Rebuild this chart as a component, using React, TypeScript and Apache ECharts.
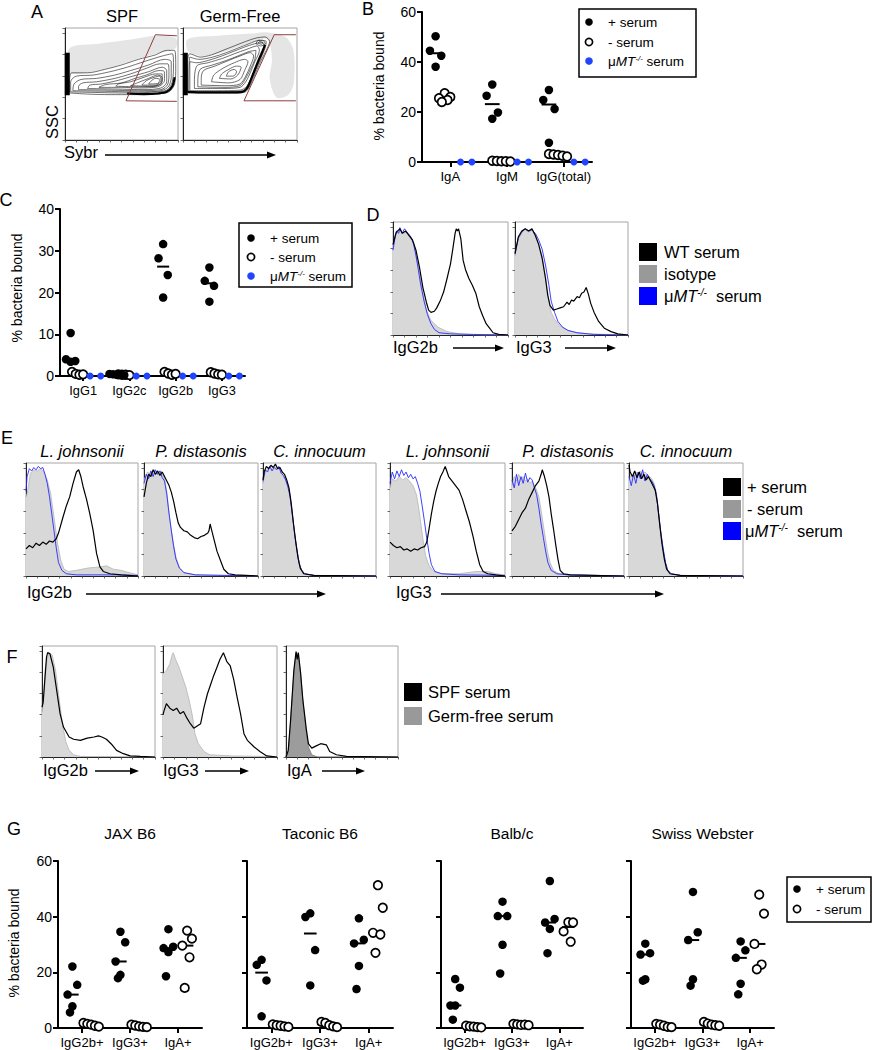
import React, { useEffect, useRef } from "react";
import * as echarts from "echarts";

const FONT = '"Liberation Sans", Arial, Helvetica, sans-serif';

// ---------------- Panel B ----------------
const bCategories = ["IgA", "IgM", "IgG(total)"];
const bPlusSerum = [[50.3, 44.5, 42.5, 38.1], [31.0, 26.5, 19.8, 17.3], [28.8, 24.8, 21.2, 7.7]];
const bMinusSerum = [[27.5, 26.0, 25.5, 24.8, 24.0], [0.5, 0.4, 0.3, 0.3, 0.2], [3.2, 3.0, 2.8, 2.5, 2.2]];
const bMuMTSerum = [[0, 0], [0, 0], [0, 0]];

// ---------------- Panel C ----------------
const cCategories = ["IgG1", "IgG2c", "IgG2b", "IgG3"];
const cPlusSerum = [[10.3, 4.0, 3.6, 3.4], [0.5, 0.4, 0.3, 0.3, 0.2], [31.6, 28.2, 24.2, 18.8], [26.0, 22.8, 21.6, 17.8]];
const cMinusSerum = [[1.0, 0.5, 0.3, 0.4], [0.4, 0.3, 0.3, 0.2], [1.0, 0.6, 0.3, 0.5], [0.9, 0.6, 0.4, 0.3]];
const cMuMTSerum = [[0, 0], [0, 0], [0, 0], [0, 0]];

// ---------------- Panel G ----------------
const gStrains = ["JAX B6", "Taconic B6", "Balb/c", "Swiss Webster"];
const gCategories = ["IgG2b+", "IgG3+", "IgA+"];
const gJaxPlus = [[22.1, 15.5, 12.0, 7.8, 5.6], [34.6, 30.8, 23.9, 19.1, 17.9], [35.5, 29.2, 28.7, 27.3, 18.6]];
const gJaxMinus = [[1.8, 1.5, 1.2, 0.8, 0.5], [1.2, 0.9, 0.6, 0.4, 0.3], [35.0, 32.1, 29.6, 25.4, 14.4]];
const gTaconicPlus = [[24.5, 22.7, 17.1, 4.2], [41.2, 39.9, 28.0, 15.3], [39.4, 31.7, 30.4, 22.3, 14.0]];
const gTaconicMinus = [[1.3, 1.0, 0.8, 0.6, 0.4], [2.2, 1.8, 1.0, 0.6, 0.3], [51.3, 43.2, 34.2, 33.6, 27.0]];
const gBalbPlus = [[17.6, 14.5, 8.1, 8.1, 3.0], [45.4, 40.2, 40.2, 29.9, 19.6], [52.8, 39.2, 37.9, 35.6, 26.9]];
const gBalbMinus = [[0.8, 0.6, 0.5, 0.3, 0.2], [1.5, 1.3, 1.1, 1.2, 1.0], [38.0, 37.9, 34.7, 31.0]];
const gSwissPlus = [[30.3, 26.9, 26.4, 17.5, 17.0], [48.9, 34.4, 31.6, 17.5, 15.2], [31.1, 27.9, 25.2, 15.9, 12.1]];
const gSwissMinus = [[1.5, 1.2, 0.8, 0.4, 0.3], [2.2, 1.6, 1.2, 1.0, 0.8], [47.9, 41.1, 30.2, 22.8, 21.1]];

// ---------------- Panel D histograms (% of max) ----------------
const dIgG2bIsotype = [[0,78],[3,90],[6,93],[9,90],[12,91],[15,88],[18,82],[20,72],[23,54],[26,37],[29,22],[33,13],[39,7],[47,3],[58,1],[76,0],[100,0]];
const dIgG2bMuMT = [[0,75],[2,88],[3,92],[5,90],[6,95],[8,90],[10,94],[13,90],[16,86],[18,80],[20,70],[22,58],[24,45],[27,30],[30,18],[33,10],[36,5],[40,2],[50,1],[70,0.5],[100,0]];
const dIgG2bWT = [[0,80],[2,88],[3,91],[5,93],[6,94],[8,90],[11,92],[14,88],[17,84],[20,75],[23,60],[26,42],[29,29],[31,22],[33,20],[36,21],[38,24],[41,30],[44,38],[47,50],[50,63],[52,76],[54,90],[55,94],[56,92],[57,94],[59,85],[61,66],[63,58],[66,50],[69,44],[72,37],[75,25],[78,17],[81,10],[84,6],[87,2],[92,0.5],[100,0]];
const dIgG3Isotype = [[0,70],[3,85],[6,90],[9,93],[12,91],[15,93],[18,88],[21,80],[24,70],[26,58],[28,44],[30,30],[32,20],[35,14],[40,8],[47,4],[55,2],[65,1],[100,0]];
const dIgG3MuMT = [[0,72],[3,86],[6,91],[9,94],[12,92],[15,93],[18,90],[21,84],[24,76],[27,62],[30,44],[32,30],[35,20],[38,12],[42,7],[47,4],[55,2],[70,0.5],[100,0]];
const dIgG3WT = [[0,72],[3,87],[6,92],[9,94],[12,92],[15,94],[18,88],[21,80],[24,68],[27,50],[29,35],[31,26],[34,22],[37,23],[40,24],[43,25],[46,29],[48,27],[50,31],[52,30],[55,34],[57,33],[59,37],[61,38],[63,42],[65,36],[67,28],[70,20],[74,12],[79,6],[85,3],[91,1],[100,0]];

// ---------------- Panel E histograms ----------------
const eLjIgG2bMinus = [[0,70],[1,73],[4,91],[7,94],[10,93],[13,95],[16,92],[19,85],[22,73],[25,52],[28,30],[31,14],[34,6],[38,4],[45,5],[55,7],[65,8],[72,9],[78,6],[85,5],[92,3],[100,1]];
const eLjIgG2bMuMT = [[0,75],[1,88],[3,95],[5,93],[7,96],[9,94],[11,97],[13,95],[15,96],[17,90],[19,82],[21,70],[23,55],[25,40],[27,25],[29,12],[32,5],[36,2],[45,1],[60,1],[80,1],[100,0.5]];
const eLjIgG2bPlus = [[0,24],[3,27],[6,25],[9,29],[12,27],[15,30],[18,28],[21,31],[24,30],[27,33],[29,38],[33,52],[36,62],[39,70],[42,82],[45,92],[47,94],[49,88],[51,79],[54,68],[57,55],[60,40],[63,20],[66,8],[69,4],[75,2],[85,1],[100,0]];
const ePdIgG2bMinus = [[0,85],[3,92],[6,90],[9,94],[12,91],[15,93],[18,86],[20,75],[22,55],[24,40],[26,28],[28,17],[31,8],[35,3],[45,1],[100,0]];
const ePdIgG2bMuMT = [[0,82],[2,90],[4,86],[6,93],[8,88],[10,94],[12,90],[14,93],[16,87],[18,84],[20,72],[22,55],[24,40],[26,26],[28,15],[31,7],[35,3],[45,1],[100,0]];
const ePdIgG2bPlus = [[0,70],[2,82],[4,90],[6,88],[8,94],[10,90],[12,93],[14,89],[16,92],[18,88],[20,84],[22,80],[24,74],[26,66],[28,56],[30,47],[32,43],[35,40],[38,39],[41,36],[44,34],[47,33],[50,35],[53,36],[56,38],[57,40],[58,46],[60,38],[62,30],[64,22],[67,14],[70,6],[74,2],[80,1],[100,0]];
const eCiIgG2bMinus = [[0,82],[2,92],[4,95],[6,97],[8,94],[10,97],[12,95],[14,96],[16,92],[18,88],[20,86],[22,80],[24,72],[26,55],[28,38],[30,24],[32,12],[34,6],[37,2],[45,0.5],[100,0]];
const eCiIgG2bMuMT = [[0,84],[2,94],[4,92],[6,97],[8,93],[10,96],[12,94],[14,97],[16,91],[18,89],[20,85],[22,79],[24,70],[26,54],[28,37],[30,23],[32,11],[34,5],[37,2],[45,0.5],[100,0]];
const eCiIgG2bPlus = [[0,85],[1,92],[3,97],[5,95],[7,98],[9,96],[11,99],[13,95],[15,96],[17,92],[19,90],[21,85],[23,78],[25,64],[27,46],[29,30],[31,16],[33,7],[36,2],[45,0.5],[100,0]];
const eLjIgG3Minus = [[0,78],[2,86],[5,84],[8,88],[11,85],[14,87],[17,84],[20,80],[23,72],[25,60],[27,45],[29,30],[31,18],[34,9],[38,4],[45,2],[60,2],[75,4],[85,4],[92,2],[100,1]];
const eLjIgG3MuMT = [[0,82],[2,92],[4,86],[6,93],[8,88],[10,94],[12,89],[14,92],[16,87],[18,90],[20,86],[22,88],[24,82],[26,75],[28,62],[30,48],[32,33],[34,20],[36,10],[39,4],[45,2],[60,1],[100,0.5]];
const eLjIgG3Plus = [[0,30],[3,27],[6,25],[9,26],[12,23],[15,24],[18,22],[21,24],[24,23],[27,25],[30,26],[32,30],[34,42],[36,55],[38,66],[40,75],[42,82],[44,88],[46,92],[48,97],[49,94],[51,88],[54,84],[57,80],[60,76],[63,68],[66,58],[69,48],[72,36],[75,22],[78,10],[81,4],[85,2],[92,1],[100,0]];
const ePdIgG3Minus = [[0,80],[2,88],[4,84],[6,90],[8,85],[10,88],[12,84],[14,86],[16,82],[18,84],[20,80],[22,76],[24,70],[26,58],[28,45],[30,32],[32,20],[34,12],[37,5],[42,2],[50,1],[100,0]];
const ePdIgG3MuMT = [[0,85],[2,78],[4,90],[6,80],[8,88],[10,82],[12,91],[14,83],[16,87],[18,85],[20,78],[22,72],[24,60],[26,46],[28,34],[30,22],[32,12],[35,5],[40,2],[50,1],[100,0]];
const ePdIgG3Plus = [[0,40],[3,44],[6,50],[9,56],[12,60],[15,68],[18,74],[21,80],[24,84],[26,90],[27,94],[29,88],[31,80],[33,70],[35,55],[37,42],[39,28],[41,15],[43,5],[46,2],[52,1],[100,0]];
const eCiIgG3Minus = [[0,85],[2,90],[4,88],[6,92],[8,90],[10,93],[12,90],[14,92],[16,90],[18,88],[20,86],[22,82],[24,74],[26,56],[28,38],[30,24],[32,12],[34,5],[37,2],[45,0.5],[100,0]];
const eCiIgG3MuMT = [[0,88],[2,80],[4,90],[6,82],[8,92],[10,86],[12,94],[14,84],[16,90],[18,86],[20,84],[22,80],[24,72],[26,55],[28,38],[30,24],[32,12],[34,5],[37,2],[45,0.5],[100,0]];
const eCiIgG3Plus = [[0,98],[1,92],[3,88],[5,93],[7,87],[9,92],[11,86],[13,90],[15,85],[17,88],[19,84],[21,80],[23,76],[25,64],[27,45],[29,28],[31,15],[33,6],[36,2],[45,0.5],[100,0]];

// ---------------- Panel F histograms ----------------
const fIgG2bGermFree = [[0,40],[1,48],[3,81],[6,94],[9,92],[12,78],[15,54],[18,30],[21,14],[24,6],[28,2],[34,0.5],[100,0]];
const fIgG2bSPF = [[0,45],[1,49],[4,90],[5,94],[7,93],[10,81],[13,60],[16,39],[19,27],[24,18],[28,16],[34,15],[40,17],[46,18],[50,19],[53,18],[57,16],[62,11],[66,6],[72,3],[78,1],[87,0.5],[100,0]];
const fIgG3GermFree = [[0,75],[3,78],[6,84],[8,92],[9,94],[11,88],[14,81],[17,72],[20,63],[23,51],[26,36],[28,21],[31,12],[36,5],[41,2],[60,1],[88,0.5],[100,0]];
const fIgG3SPF = [[0,38],[1,42],[3,48],[6,44],[9,42],[12,44],[15,39],[18,41],[21,35],[24,30],[27,26],[30,28],[33,30],[36,45],[39,57],[42,66],[44,72],[47,80],[50,88],[53,94],[56,86],[59,82],[62,70],[65,54],[68,39],[71,21],[74,15],[80,9],[85,5],[91,1],[100,0]];
const fIgAGermFree = [[0,0],[2,5],[4,30],[7,75],[9,94],[11,92],[13,75],[15,51],[18,24],[20,9],[23,2],[28,0],[100,0]];
const fIgASPF = [[0,0],[2,6],[4,32],[7,78],[9,95],[10,88],[11,94],[13,76],[15,52],[18,26],[20,12],[23,8],[27,10],[31,12],[36,11],[39,5],[45,2],[54,0.5],[100,0]];

// ---------------- Panel A contour outlines (Sybr vs SSC, % of plot) ----------------
const aSpfRings = [
  [[4,42],[20,41],[40,40.5],[60,40.5],[80,41],[92,43],[97,50],[98,65],[97,80],[90,80],[80,76],[65,72],[50,67],[35,63],[20,60],[6,60],[4,52],[4,42]],
  [[5,43],[25,42.5],[50,42],[75,42.5],[90,44.5],[95,52],[96,68],[95,77],[86,75],[70,70],[55,65],[40,61],[25,58],[10,57],[5,52],[5,43]],
  [[7,44],[35,43.5],[60,43],[82,43.5],[91,47],[94,56],[94,70],[88,72],[74,67],[58,62],[44,58],[28,55],[14,54],[8,50],[7,44]],
  [[12,45],[40,44.5],[65,44],[85,45],[91,50],[92,60],[91,68],[84,68],[72,64],[58,59],[44,55],[28,52],[16,51],[12,48],[12,45]],
  [[20,46],[45,45.5],[70,45],[85,46.5],[90,52],[90,62],[86,65],[74,61],[60,57],[46,53],[32,50],[22,49],[20,46]],
  [[30,47],[50,47],[66,46.5],[82,47.5],[88,53],[88,61],[83,62],[72,58],[62,55],[50,51],[36,49.5],[30,47]],
  [[45,48],[65,47.5],[80,48],[86,53],[86,59],[80,59],[70,56],[58,52],[47,50],[45,48]],
  [[58,48.5],[75,48],[85,50],[86,56],[82,58],[74,55],[64,51],[58,48.5]],
  [[68,49],[80,49],[85,53],[84,57],[79,56],[72,53],[68,49]],
  [[74,50],[82,50.5],[84,54],[80,55],[76,52.5],[74,50]],
];
const aSpfDots = [[4,82],[30,86],[60,90],[80,93],[98,91],[98,82],[80,77],[60,71],[30,62],[4,60]];
const aSpfBand = [[2,40],[2,78]];
const aSpfEdge = [[55,41.5],[70,41],[82,41.5],[90,43],[95,48],[97,56]];
const aSpfGate = [[99,34.5],[54,35],[80,94],[99,93]];

const aGfRings = [
  [[4,42],[25,42],[50,42],[56,44],[62,56],[68,70],[74,82],[76,88],[72,92],[64,91],[55,88],[45,84],[35,80],[25,76],[15,74],[6,77],[4,70],[4,42]],
  [[5,43],[30,43],[50,43.5],[56,46],[61,56],[67,70],[72,82],[73,88],[67,89],[58,86],[48,82],[38,78],[26,74],[14,72],[6,74],[5,43]],
  [[6,44],[30,44],[50,44.5],[56,48],[61,58],[66,70],[71,82],[70,87],[63,86],[54,83],[44,79],[34,75],[22,71],[12,69],[6,70],[6,44]],
  [[10,46],[35,46],[50,47],[55,52],[59,60],[63,70],[67,80],[65,84],[56,81],[45,77],[35,73],[22,69],[12,66],[10,50],[10,46]],
  [[13,47.5],[36,47],[50,48.5],[55,55],[59,63],[63,72],[64,80],[58,79],[48,75],[38,71],[26,67],[15,63],[13,52],[13,47.5]],
  [[16,49],[38,48.5],[50,50],[55,57],[59,66],[62,75],[59,78],[50,75],[40,71],[28,66],[18,62],[16,55],[16,49]],
  [[25,52],[40,51],[50,54],[54,62],[57,70],[54,72],[45,69],[35,64],[27,58],[25,52]],
  [[32,55],[42,54.5],[48,58],[51,65],[47,66],[40,63],[34,59],[32,55]],
  [[38,57],[44,57],[47,61],[45,63],[40,61],[38,57]],
  [[64,86],[68,84],[72,86],[70,89],[66,89],[64,86]],
  [[66,86.5],[69,85.5],[70,87],[67,88],[66,86.5]],
];
const aGfDots = [[4,90],[30,93],[60,95],[75,96],[90,92],[97,80],[97,50],[92,40],[82,38],[76,55],[78,72],[74,90],[60,87],[45,82],[30,77],[15,75],[4,80]];
const aGfBand = [[2,40],[2,78]];
const aGfEdge = [[4,43],[20,42.5],[40,42.5],[52,43],[56,46],[60,55],[65,68],[70,80],[72,85]];
const aGfGate = [[99,35],[53.5,35],[80,94],[99,94]];

// ---------------- helpers ----------------
const median = (a: number[]) => {
  const s = [...a].sort((p, q) => p - q);
  const n = s.length;
  return n % 2 ? s[(n - 1) / 2] : (s[n / 2 - 1] + s[n / 2]) / 2;
};
const JIT4 = [0, -0.1, 0.1, 0];
const JIT5 = [0, 0.1, -0.1, 0, -0.05];
const JITOPEN = [0, 0.1, -0.1, 0.05, -0.05];
const JITCLUSTER = [-0.16, -0.08, 0, 0.08, 0.16, 0.04];

const BLUE_DOT = "#1f45ff";

function buildOption() {
  const grids: any[] = [];
  const xAxes: any[] = [];
  const yAxes: any[] = [];
  const series: any[] = [];
  const graphics: any[] = [];

  const addGrid = (r: number[], box: boolean) => {
    grids.push({
      left: r[0], top: r[1], width: r[2], height: r[3],
      show: box, borderColor: "#a6a6a6", borderWidth: 1, backgroundColor: "transparent",
    });
    return grids.length - 1;
  };

  const boxAxes = (g: number) => {
    const xi = xAxes.length;
    xAxes.push({
      type: "value", gridIndex: g, min: 0, max: 100, interval: 10, position: "bottom",
      axisLine: { show: true, onZero: false, lineStyle: { color: "#222", width: 1 } },
      axisTick: { show: true, length: 2.5, lineStyle: { color: "#444", width: 0.8 } },
      axisLabel: { show: false }, splitLine: { show: false },
    });
    const yi = yAxes.length;
    yAxes.push({
      type: "value", gridIndex: g, min: 0, max: 100, interval: 19.1,
      axisLine: { show: true, onZero: false, lineStyle: { color: "#222", width: 1 } },
      axisTick: { show: true, length: 2.5, lineStyle: { color: "#444", width: 0.8 } },
      axisLabel: { show: false }, splitLine: { show: false },
    });
    return [xi, yi];
  };

  // histogram box
  const addHist = (r: number[], curves: { data: number[][]; kind: string }[]) => {
    const g = addGrid(r, true);
    const [xi, yi] = boxAxes(g);
    curves.forEach((c) => {
      const base: any = {
        type: "line", xAxisIndex: xi, yAxisIndex: yi, data: c.data, symbol: "none",
        showSymbol: false, silent: true, smooth: false,
      };
      if (c.kind === "fill") {
        base.lineStyle = { color: "#b5b5b5", width: 0.8 };
        base.areaStyle = { color: "#d8d8d8", opacity: 1 };
        base.z = 2;
      } else if (c.kind === "darkfill") {
        base.lineStyle = { color: "#777", width: 0.8 };
        base.areaStyle = { color: "#9c9c9c", opacity: 1 };
        base.z = 2;
      } else if (c.kind === "blue") {
        base.lineStyle = { color: "#2a2aff", width: 0.9 };
        base.z = 3;
      } else {
        base.lineStyle = { color: "#000", width: 1.2 };
        base.z = 4;
      }
      series.push(base);
    });
  };

  // contour (flow) plot
  const addContour = (r: number[], rings: number[][][], dots: number[][], band: number[][], edge: number[][], gate: number[][]) => {
    const g = addGrid(r, true);
    const [xi, yi] = boxAxes(g);
    series.push({
      type: "custom", coordinateSystem: "cartesian2d", xAxisIndex: xi, yAxisIndex: yi, silent: true,
      data: [[0, 0]], z: 1,
      renderItem: (_p: any, api: any) => ({
        type: "polygon",
        shape: { points: dots.map((pt) => api.coord(pt)), smooth: 0.3 },
        style: { fill: "rgba(0,0,0,0.1)" },
      }),
    });
    rings.forEach((ring) => {
      series.push({
        type: "line", xAxisIndex: xi, yAxisIndex: yi, data: ring, symbol: "none", silent: true,
        smooth: 0.3, lineStyle: { color: "#111", width: 0.6 }, z: 3,
      });
    });
    series.push({
      type: "line", xAxisIndex: xi, yAxisIndex: yi, data: band, symbol: "none", silent: true,
      lineStyle: { color: "#000", width: 5 }, z: 4,
    });
    series.push({
      type: "line", xAxisIndex: xi, yAxisIndex: yi, data: edge, symbol: "none", silent: true, smooth: 0.3,
      lineStyle: { color: "#000", width: 2.2 }, z: 4,
    });
    series.push({
      type: "line", xAxisIndex: xi, yAxisIndex: yi, data: gate, symbol: "none", silent: true,
      lineStyle: { color: "#8c3f3f", width: 1 }, z: 5,
    });
  };

  // dot plot
  const addDotPlot = (
    r: number[], cats: string[], yMax: number, yInterval: number, showYLabels: boolean, catFont: number,
    groups: { values: number[][]; offset: number; kind: string; fixed?: number[] }[],
  ) => {
    const g = addGrid(r, false);
    xAxes.push({
      type: "category", gridIndex: g, data: cats, boundaryGap: true, position: "bottom",
      axisLine: { show: true, onZero: false, lineStyle: { color: "#000", width: 2 } },
      axisTick: { show: true, alignWithLabel: true, length: 5, lineStyle: { color: "#000", width: 2 } },
      axisLabel: { show: true, fontFamily: FONT, fontSize: catFont, color: "#000", margin: 8, interval: 0 },
      splitLine: { show: false },
    });
    const xVal = xAxes.length;
    xAxes.push({ type: "value", gridIndex: g, min: 0, max: cats.length, show: false, position: "top" });
    const yi = yAxes.length;
    yAxes.push({
      type: "value", gridIndex: g, min: 0, max: yMax, interval: yInterval,
      axisLine: { show: true, onZero: false, lineStyle: { color: "#000", width: 2 } },
      axisTick: { show: true, length: 5, lineStyle: { color: "#000", width: 2 } },
      axisLabel: { show: showYLabels, fontFamily: FONT, fontSize: 14, color: "#000", margin: 6 },
      splitLine: { show: false },
    });
    groups.forEach((gr) => {
      const pts: number[][] = [];
      const meds: number[][] = [];
      gr.values.forEach((vals, ci) => {
        const mx = Math.max(...vals);
        const jit = gr.fixed
          ? gr.fixed
          : mx < 5
            ? JITCLUSTER
            : gr.kind === "plus"
              ? vals.length === 4 ? JIT4 : JIT5
              : JITOPEN;
        vals.forEach((v, k) => pts.push([ci + 0.5 + gr.offset + (jit[k] || 0), v]));
        if (gr.kind !== "mu") meds.push([ci + 0.5 + gr.offset, median(vals)]);
      });
      if (meds.length) {
        series.push({
          type: "custom", coordinateSystem: "cartesian2d", xAxisIndex: xVal, yAxisIndex: yi, silent: true,
          data: meds, z: 2,
          renderItem: (_p: any, api: any) => {
            const x = api.value(0);
            const y = api.value(1);
            const a = api.coord([x - 0.13, y]);
            const b = api.coord([x + 0.13, y]);
            return { type: "line", shape: { x1: a[0], y1: a[1], x2: b[0], y2: b[1] }, style: { stroke: "#000", lineWidth: 2 } };
          },
        });
      }
      const style =
        gr.kind === "plus"
          ? { color: "#000", opacity: 1 }
          : gr.kind === "minus"
            ? { color: "#fff", borderColor: "#000", borderWidth: 1.7, opacity: 1 }
            : { color: BLUE_DOT, opacity: 1 };
      series.push({
        type: "scatter", xAxisIndex: xVal, yAxisIndex: yi, data: pts, symbol: "circle",
        symbolSize: gr.kind === "minus" ? 8.5 : gr.kind === "mu" ? 7 : 8.5,
        itemStyle: style, z: gr.kind === "plus" ? 4 : 3, silent: true, clip: false,
      });
    });
  };

  // ---------- graphic helpers ----------
  const txt = (x: number, y: number, text: string, size: number, o: any = {}) => {
    graphics.push({
      type: "text", x, y, rotation: o.rot || 0, z: 20, silent: true,
      style: {
        text, fontFamily: FONT, fontSize: size, fill: "#000",
        align: o.align || "left", verticalAlign: "middle",
        fontStyle: o.italic ? "italic" : "normal",
      },
    });
  };
  const muTxt = (x: number, y: number, size: number, gap: string) => {
    graphics.push({
      type: "text", x, y, z: 20, silent: true,
      style: {
        text: `{a|μ}{b|MT}{c|-/-}{d|${gap}serum}`,
        fontFamily: FONT, fontSize: size, fill: "#000", verticalAlign: "middle", align: "left",
        rich: {
          a: { fontFamily: FONT, fontSize: size },
          b: { fontFamily: FONT, fontSize: size, fontStyle: "italic" },
          c: { fontFamily: FONT, fontSize: Math.round(size * 0.6), fontStyle: "italic", verticalAlign: "top" },
          d: { fontFamily: FONT, fontSize: size },
        },
      },
    });
  };
  const arrow = (x1: number, x2: number, y: number) => {
    graphics.push({ type: "line", z: 20, silent: true, shape: { x1, y1: y, x2: x2 - 6, y2: y }, style: { stroke: "#000", lineWidth: 1.6 } });
    graphics.push({ type: "polygon", z: 20, silent: true, shape: { points: [[x2, y], [x2 - 9, y - 3.6], [x2 - 9, y + 3.6]] }, style: { fill: "#000" } });
  };
  const square = (x: number, y: number, color: string) => {
    graphics.push({ type: "rect", z: 20, silent: true, shape: { x, y, width: 18, height: 18 }, style: { fill: color } });
  };
  const dot = (x: number, y: number, kind: string) => {
    graphics.push({
      type: "circle", z: 20, silent: true, shape: { cx: x, cy: y, r: kind === "minus" ? 3.6 : 3.8 },
      style: kind === "minus"
        ? { fill: "#fff", stroke: "#000", lineWidth: 1.7 }
        : { fill: kind === "plus" ? "#000" : BLUE_DOT },
    });
  };
  const frame = (x: number, y: number, w: number, h: number) => {
    graphics.push({ type: "rect", z: 19, silent: true, shape: { x, y, width: w, height: h }, style: { fill: "#fff", stroke: "#000", lineWidth: 1.5 } });
  };

  // ================= Panel A =================
  txt(37, 12, "A", 18, { align: "center" });
  txt(122, 16, "SPF", 16.5, { align: "center" });
  txt(240, 16, "Germ-Free", 16.5, { align: "center" });
  txt(52, 122, "SSC", 16.5, { align: "center", rot: Math.PI / 2 });
  txt(64, 152, "Sybr", 16.5);
  arrow(105, 276, 155);
  addContour([65, 28, 113, 112], aSpfRings, aSpfDots, aSpfBand, aSpfEdge, aSpfGate);
  addContour([183, 28, 114, 112], aGfRings, aGfDots, aGfBand, aGfEdge, aGfGate);

  // ================= Panel B =================
  txt(368, 9, "B", 18, { align: "center" });
  txt(379, 86, "% bacteria bound", 14, { align: "center", rot: Math.PI / 2 });
  addDotPlot([422, 12, 170, 150], bCategories, 60, 20, true, 13.2, [
    { values: bMinusSerum, offset: -0.1, kind: "minus" },
    { values: bMuMTSerum, offset: 0, kind: "mu", fixed: [0.18, 0.38] },
    { values: bPlusSerum, offset: -0.26, kind: "plus" },
  ]);
  frame(579, 9, 117, 68);
  dot(589, 22, "plus"); txt(608, 22, "+ serum", 13.5);
  dot(589, 42, "minus"); txt(608, 42, "- serum", 13.5);
  dot(589, 61, "mu"); muTxt(608, 61, 13.5, " ");

  // ================= Panel C =================
  txt(6, 200, "C", 18, { align: "center" });
  txt(17, 288, "% bacteria bound", 14, { align: "center", rot: Math.PI / 2 });
  addDotPlot([60, 209, 185, 167], cCategories, 40, 10, true, 12.8, [
    { values: cMinusSerum, offset: -0.08, kind: "minus" },
    { values: cMuMTSerum, offset: 0, kind: "mu", fixed: [0.15, 0.38] },
    { values: cPlusSerum, offset: -0.27, kind: "plus" },
  ]);
  frame(239, 223, 113, 64);
  dot(251, 238, "plus"); txt(270, 238, "+ serum", 13.5);
  dot(251, 257, "minus"); txt(270, 257, "- serum", 13.5);
  dot(251, 276, "mu"); muTxt(270, 276, 13.5, " ");

  // ================= Panel D =================
  txt(373, 215, "D", 18, { align: "center" });
  addHist([393, 222, 115, 113], [
    { data: dIgG2bIsotype, kind: "fill" }, { data: dIgG2bMuMT, kind: "blue" }, { data: dIgG2bWT, kind: "black" },
  ]);
  addHist([515, 222, 113, 113], [
    { data: dIgG3Isotype, kind: "fill" }, { data: dIgG3MuMT, kind: "blue" }, { data: dIgG3WT, kind: "black" },
  ]);
  txt(393, 347, "IgG2b", 16.5); arrow(453, 504, 348);
  txt(516, 347, "IgG3", 16.5); arrow(565, 616, 348);
  square(639, 243, "#000"); txt(664, 252, "WT serum", 16.5);
  square(639, 265, "#999"); txt(664, 274, "isotype", 16.5);
  square(639, 287, "#0000ff"); muTxt(664, 296, 16.5, "  ");

  // ================= Panel E =================
  txt(7, 438, "E", 18, { align: "center" });
  const eBoxes = [
    [26, 463, 112, 113], [144, 463, 114, 113], [263, 463, 113, 113],
    [390, 463, 115, 113], [512, 463, 112, 113], [629, 463, 114, 113],
  ];
  const eTitles = ["L. johnsonii", "P. distasonis", "C. innocuum", "L. johnsonii", "P. distasonis", "C. innocuum"];
  const eSets = [
    [eLjIgG2bMinus, eLjIgG2bMuMT, eLjIgG2bPlus],
    [ePdIgG2bMinus, ePdIgG2bMuMT, ePdIgG2bPlus],
    [eCiIgG2bMinus, eCiIgG2bMuMT, eCiIgG2bPlus],
    [eLjIgG3Minus, eLjIgG3MuMT, eLjIgG3Plus],
    [ePdIgG3Minus, ePdIgG3MuMT, ePdIgG3Plus],
    [eCiIgG3Minus, eCiIgG3MuMT, eCiIgG3Plus],
  ];
  eBoxes.forEach((b, i) => {
    addHist(b, [
      { data: eSets[i][0], kind: "fill" }, { data: eSets[i][1], kind: "blue" }, { data: eSets[i][2], kind: "black" },
    ]);
    txt(b[0] + b[2] / 2, 451, eTitles[i], 16.5, { align: "center", italic: true });
  });
  txt(27, 592, "IgG2b", 16.5); arrow(86, 326, 594);
  txt(396, 592, "IgG3", 16.5); arrow(441, 664, 594);
  square(723, 478, "#000"); txt(747, 487, "+ serum", 16.5);
  square(723, 500, "#999"); txt(747, 509, "- serum", 16.5);
  square(723, 522, "#0000ff"); muTxt(745, 531, 16.5, "  ");

  // ================= Panel F =================
  txt(12, 657, "F", 18, { align: "center" });
  addHist([42, 646, 113, 111], [{ data: fIgG2bGermFree, kind: "fill" }, { data: fIgG2bSPF, kind: "black" }]);
  addHist([163, 646, 114, 111], [{ data: fIgG3GermFree, kind: "fill" }, { data: fIgG3SPF, kind: "black" }]);
  addHist([286, 646, 112, 111], [{ data: fIgAGermFree, kind: "darkfill" }, { data: fIgASPF, kind: "black" }]);
  txt(43, 770, "IgG2b", 16.5); arrow(95, 139, 771);
  txt(163, 770, "IgG3", 16.5); arrow(205, 249, 771);
  txt(287, 770, "IgA", 16.5); arrow(322, 365, 771);
  square(404, 683, "#000"); txt(428, 692, "SPF serum", 16.5);
  square(404, 707, "#999"); txt(428, 716, "Germ-free serum", 16.5);

  // ================= Panel G =================
  txt(14, 829, "G", 18, { align: "center" });
  txt(14, 943, "% bacteria bound", 14, { align: "center", rot: Math.PI / 2 });
  const gRects = [[58, 861, 144, 167], [247, 861, 146, 167], [441, 861, 142, 167], [631, 861, 143, 167]];
  const gData = [
    [gJaxPlus, gJaxMinus], [gTaconicPlus, gTaconicMinus], [gBalbPlus, gBalbMinus], [gSwissPlus, gSwissMinus],
  ];
  gRects.forEach((r, i) => {
    addDotPlot(r, gCategories, 60, 20, i === 0, 13, [
      { values: gData[i][1], offset: 0.19, kind: "minus" },
      { values: gData[i][0], offset: -0.2, kind: "plus" },
    ]);
    txt(r[0] + r[2] / 2, 833, gStrains[i], 15.5, { align: "center" });
  });
  frame(787, 877, 84, 45);
  dot(797, 889, "plus"); txt(816, 889, "+ serum", 13.5);
  dot(797, 909, "minus"); txt(816, 909, "- serum", 13.5);

  return {
    animation: false,
    backgroundColor: "#fff",
    textStyle: { fontFamily: FONT },
    grid: grids,
    xAxis: xAxes,
    yAxis: yAxes,
    series,
    graphic: { elements: graphics },
  };
}

export default function App() {
  const ref = useRef<HTMLDivElement>(null);
  useEffect(() => {
    if (!ref.current) return;
    const chart = echarts.init(ref.current, undefined, { renderer: "svg", width: 872, height: 1050 });
    chart.setOption(buildOption() as any);
    return () => chart.dispose();
  }, []);
  return (
    <div
      ref={ref}
      style={{ position: "absolute", left: 0, top: 0, width: 872, height: 1050, background: "#fff" }}
    />
  );
}
